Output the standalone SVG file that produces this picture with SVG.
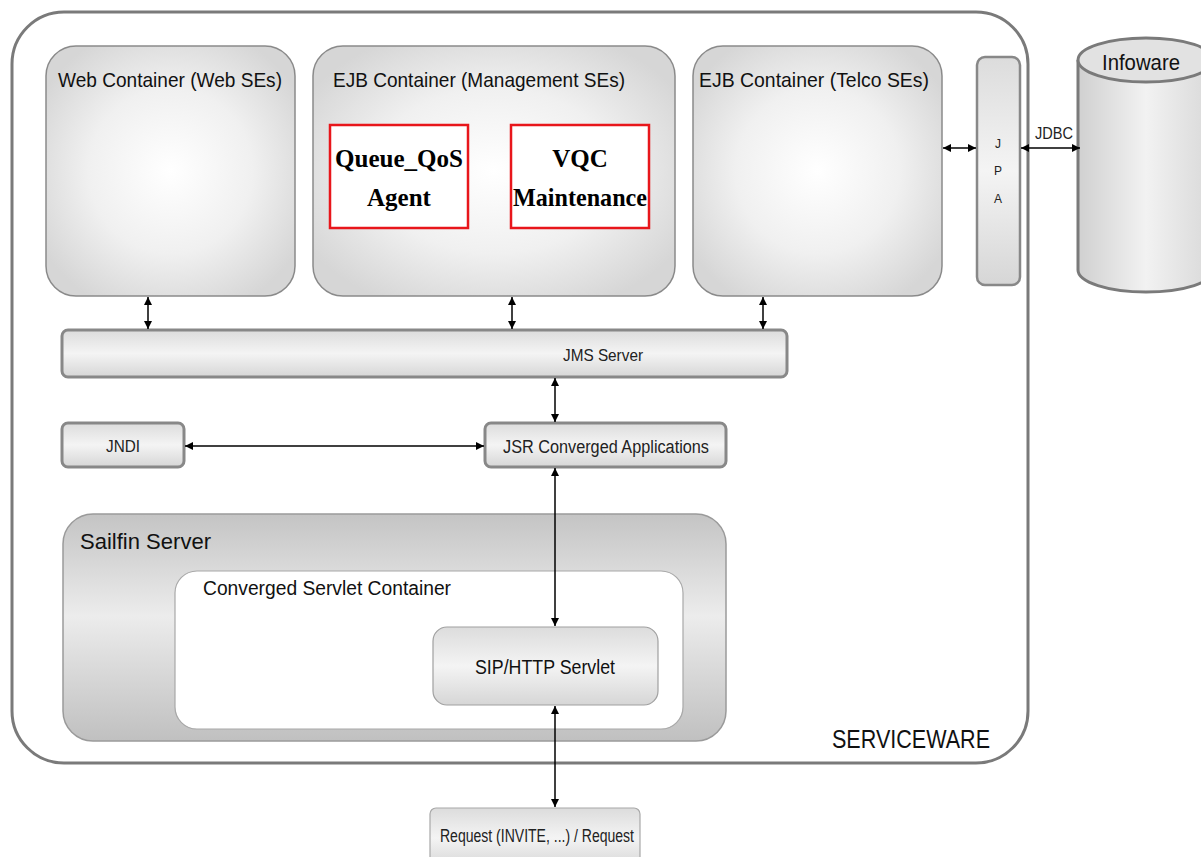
<svg xmlns="http://www.w3.org/2000/svg" width="1201" height="857" viewBox="0 0 1201 857">
<defs>
<radialGradient id="gc" cx="0.5" cy="0.5" r="0.6">
<stop offset="0" stop-color="#ffffff"/>
<stop offset="0.55" stop-color="#f0f0f0"/>
<stop offset="1" stop-color="#d6d6d6"/>
</radialGradient>
<linearGradient id="gbar" x1="0" y1="0" x2="0" y2="1">
<stop offset="0" stop-color="#dcdcdc"/>
<stop offset="0.5" stop-color="#f4f4f4"/>
<stop offset="1" stop-color="#d6d6d6"/>
</linearGradient>
<linearGradient id="gsail" x1="0" y1="0" x2="0" y2="1">
<stop offset="0" stop-color="#c4c4c4"/>
<stop offset="0.45" stop-color="#ececec"/>
<stop offset="1" stop-color="#c0c0c0"/>
</linearGradient>
<linearGradient id="gcyl" x1="0" y1="0" x2="1" y2="0">
<stop offset="0" stop-color="#d0d0d0"/>
<stop offset="0.5" stop-color="#f2f2f2"/>
<stop offset="1" stop-color="#d8d8d8"/>
</linearGradient>
<marker id="ah" viewBox="0 0 10 10" refX="10" refY="5" markerWidth="8" markerHeight="8" markerUnits="userSpaceOnUse" orient="auto-start-reverse">
<path d="M0,0 L10,5 L0,10 z" fill="#000"/>
</marker>
<style>
.cont{fill:url(#gc);stroke:#8a8a8a;stroke-width:1.5}
.bar{fill:url(#gbar);stroke:#888;stroke-width:3}
.t{font-family:"Liberation Sans",Arial,sans-serif;fill:#111}
.tn{font-family:"Liberation Sans Narrow","Liberation Sans",Arial,sans-serif;fill:#222}
.red{fill:#fff;stroke:#e8161b;stroke-width:2.5}
.ser{font-family:"Liberation Serif","Times New Roman",serif;font-weight:bold;font-size:25px;fill:#000}
.c{stroke:#000;stroke-width:1.5;fill:none;marker-start:url(#ah);marker-end:url(#ah)}
</style>
</defs>
<rect width="1201" height="857" fill="#fff"/>

<g id="serviceware">
<rect x="12" y="12" width="1016" height="751" rx="52" fill="#fff" stroke="#7a7a7a" stroke-width="3"/>
<text x="911" y="748" class="t" font-size="26" text-anchor="middle" textLength="158" lengthAdjust="spacingAndGlyphs">SERVICEWARE</text>
</g>

<g id="web-container">
<rect x="46" y="46" width="249" height="250" rx="30" class="cont"/>
<text x="170" y="87" class="t" font-size="21" text-anchor="middle" textLength="224" lengthAdjust="spacingAndGlyphs">Web Container (Web SEs)</text>
</g>

<g id="ejb-management">
<rect x="313" y="46" width="362" height="250" rx="30" class="cont"/>
<text x="479" y="87" class="t" font-size="21" text-anchor="middle" textLength="292" lengthAdjust="spacingAndGlyphs">EJB Container (Management SEs)</text>
</g>

<g id="queue-qos">
<rect x="330" y="125" width="138" height="103" class="red"/>
<text x="399" y="167" class="ser" text-anchor="middle" textLength="128" lengthAdjust="spacingAndGlyphs">Queue_QoS</text>
<text x="399" y="206" class="ser" text-anchor="middle">Agent</text>
</g>

<g id="vqc">
<rect x="511" y="125" width="138" height="103" class="red"/>
<text x="580" y="167" class="ser" text-anchor="middle">VQC</text>
<text x="580" y="206" class="ser" text-anchor="middle" textLength="134" lengthAdjust="spacingAndGlyphs">Maintenance</text>
</g>

<g id="ejb-telco">
<rect x="693" y="46" width="249" height="250" rx="30" class="cont"/>
<text x="814" y="87" class="t" font-size="21" text-anchor="middle" textLength="230" lengthAdjust="spacingAndGlyphs">EJB Container (Telco SEs)</text>
</g>

<g id="jpa">
<rect x="977" y="57" width="43" height="228" rx="8" fill="url(#gbar)" stroke="#888" stroke-width="2.5"/>
<text x="998" y="148" class="tn" font-size="12" text-anchor="middle">J</text>
<text x="998" y="175" class="tn" font-size="12" text-anchor="middle">P</text>
<text x="998" y="203" class="tn" font-size="12" text-anchor="middle">A</text>
</g>

<g id="infoware">
<path d="M1078,60 L1078,270 A68,22 0 0 0 1214,270 L1214,60" fill="url(#gcyl)" stroke="#7a7a7a" stroke-width="3"/>
<ellipse cx="1146" cy="60" rx="68" ry="22" fill="#e2e2e2" stroke="#7a7a7a" stroke-width="3"/>
<text x="1141" y="70" class="t" font-size="22" text-anchor="middle" textLength="78" lengthAdjust="spacingAndGlyphs">Infoware</text>
</g>

<g id="jms-server">
<rect x="62" y="330" width="725" height="47" rx="6" class="bar"/>
<text x="603" y="361" class="tn" font-size="17" text-anchor="middle" textLength="80" lengthAdjust="spacingAndGlyphs">JMS Server</text>
</g>

<g id="jndi">
<rect x="62" y="423" width="122" height="44" rx="6" class="bar"/>
<text x="123" y="452" class="tn" font-size="17" text-anchor="middle" textLength="34" lengthAdjust="spacingAndGlyphs">JNDI</text>
</g>

<g id="jsr">
<rect x="485" y="423" width="241" height="44" rx="6" class="bar"/>
<text x="606" y="453" class="tn" font-size="18" text-anchor="middle" textLength="206" lengthAdjust="spacingAndGlyphs">JSR Converged Applications</text>
</g>

<g id="sailfin">
<rect x="63" y="514" width="663" height="227" rx="30" fill="url(#gsail)" stroke="#9a9a9a" stroke-width="1.5"/>
<text x="80" y="549" class="t" font-size="22" textLength="131" lengthAdjust="spacingAndGlyphs">Sailfin Server</text>
</g>

<g id="converged-servlet-container">
<rect x="175" y="571" width="508" height="158" rx="22" fill="#fff" stroke="#a8a8a8" stroke-width="1.2"/>
<text x="203" y="595" class="t" font-size="20" textLength="248" lengthAdjust="spacingAndGlyphs">Converged Servlet Container</text>
</g>

<g id="sip-http-servlet">
<rect x="433" y="627" width="225" height="78" rx="14" fill="url(#gbar)" stroke="#a0a0a0" stroke-width="1.2"/>
<text x="545" y="674" class="t" font-size="20" text-anchor="middle" textLength="140" lengthAdjust="spacingAndGlyphs">SIP/HTTP Servlet</text>
</g>

<g id="request">
<rect x="430" y="808" width="210" height="60" rx="6" fill="url(#gbar)" stroke="#a8a8a8" stroke-width="1.2"/>
<text x="537" y="842" class="tn" font-size="18" text-anchor="middle" textLength="194" lengthAdjust="spacingAndGlyphs">Request (INVITE, ...) / Request</text>
</g>

<g id="connectors">
<line x1="148" y1="297" x2="148" y2="329" class="c"/>
<line x1="512" y1="297" x2="512" y2="329" class="c"/>
<line x1="763" y1="297" x2="763" y2="329" class="c"/>
<line x1="555" y1="378" x2="555" y2="422" class="c"/>
<line x1="185" y1="446" x2="484" y2="446" class="c"/>
<line x1="555" y1="468" x2="555" y2="626" class="c"/>
<line x1="555" y1="706" x2="555" y2="807" class="c"/>
<line x1="943" y1="148" x2="976" y2="148" class="c"/>
<line x1="1021" y1="148" x2="1080" y2="148" class="c"/>
<text x="1054" y="139" class="tn" font-size="16" text-anchor="middle" textLength="38" lengthAdjust="spacingAndGlyphs">JDBC</text>
</g>
</svg>
